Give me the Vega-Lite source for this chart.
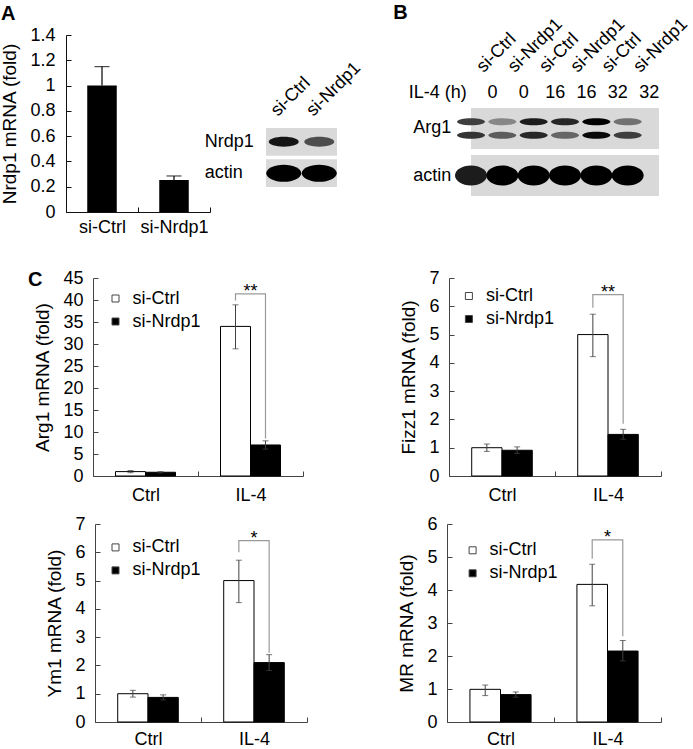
{
  "$schema": "https://vega.github.io/schema/vega-lite/v6.json",
  "background": "white",
  "padding": {"left": 0, "top": 2, "right": 5, "bottom": 3},
  "bounds": "flush",
  "spacing": 0,
  "resolve": {
    "scale": {"x": "independent", "y": "independent", "fill": "independent", "color": "independent", "xOffset": "independent", "yOffset": "independent"},
    "legend": {"fill": "independent", "color": "independent"}
  },
  "datasets": {
    "nrdp1": [
      {"si": "si-Ctrl", "mean": 1.0, "hi": 1.15},
      {"si": "si-Nrdp1", "mean": 0.253, "hi": 0.285}
    ],
    "blotA": [
      {"lane": "si-Ctrl", "protein": "Nrdp1", "level": 0.92},
      {"lane": "si-Nrdp1", "protein": "Nrdp1", "level": 0.62},
      {"lane": "si-Ctrl", "protein": "actin", "level": 1.0},
      {"lane": "si-Nrdp1", "protein": "actin", "level": 1.0}
    ],
    "blotB": [
      {"lane": "si-Ctrl|0", "protein": "Arg1", "band": "upper", "level": 0.7},
      {"lane": "si-Ctrl|0", "protein": "Arg1", "band": "lower", "level": 0.75},
      {"lane": "si-Nrdp1|0", "protein": "Arg1", "band": "upper", "level": 0.35},
      {"lane": "si-Nrdp1|0", "protein": "Arg1", "band": "lower", "level": 0.55},
      {"lane": "si-Ctrl|16", "protein": "Arg1", "band": "upper", "level": 0.88},
      {"lane": "si-Ctrl|16", "protein": "Arg1", "band": "lower", "level": 0.82},
      {"lane": "si-Nrdp1|16", "protein": "Arg1", "band": "upper", "level": 0.82},
      {"lane": "si-Nrdp1|16", "protein": "Arg1", "band": "lower", "level": 0.5},
      {"lane": "si-Ctrl|32", "protein": "Arg1", "band": "upper", "level": 1.0},
      {"lane": "si-Ctrl|32", "protein": "Arg1", "band": "lower", "level": 0.97},
      {"lane": "si-Nrdp1|32", "protein": "Arg1", "band": "upper", "level": 0.45},
      {"lane": "si-Nrdp1|32", "protein": "Arg1", "band": "lower", "level": 0.7},
      {"lane": "si-Ctrl|0", "protein": "actin", "band": "main", "level": 0.88},
      {"lane": "si-Nrdp1|0", "protein": "actin", "band": "main", "level": 1.0},
      {"lane": "si-Ctrl|16", "protein": "actin", "band": "main", "level": 1.0},
      {"lane": "si-Nrdp1|16", "protein": "actin", "band": "main", "level": 1.0},
      {"lane": "si-Ctrl|32", "protein": "actin", "band": "main", "level": 1.0},
      {"lane": "si-Nrdp1|32", "protein": "actin", "band": "main", "level": 1.0}
    ],
    "qpcr": [
      {"gene": "Arg1", "cond": "Ctrl", "si": "si-Ctrl", "mean": 1.0, "lo": 0.75, "hi": 1.25},
      {"gene": "Arg1", "cond": "Ctrl", "si": "si-Nrdp1", "mean": 0.85, "lo": 0.7, "hi": 1.0},
      {"gene": "Arg1", "cond": "IL-4", "si": "si-Ctrl", "mean": 34.0, "lo": 28.9, "hi": 38.9},
      {"gene": "Arg1", "cond": "IL-4", "si": "si-Nrdp1", "mean": 7.05, "lo": 6.1, "hi": 8.0},
      {"gene": "Fizz1", "cond": "Ctrl", "si": "si-Ctrl", "mean": 1.0, "lo": 0.87, "hi": 1.13},
      {"gene": "Fizz1", "cond": "Ctrl", "si": "si-Nrdp1", "mean": 0.91, "lo": 0.8, "hi": 1.03},
      {"gene": "Fizz1", "cond": "IL-4", "si": "si-Ctrl", "mean": 5.0, "lo": 4.22, "hi": 5.72},
      {"gene": "Fizz1", "cond": "IL-4", "si": "si-Nrdp1", "mean": 1.47, "lo": 1.3, "hi": 1.65},
      {"gene": "Ym1", "cond": "Ctrl", "si": "si-Ctrl", "mean": 1.0, "lo": 0.88, "hi": 1.12},
      {"gene": "Ym1", "cond": "Ctrl", "si": "si-Nrdp1", "mean": 0.87, "lo": 0.78, "hi": 0.96},
      {"gene": "Ym1", "cond": "IL-4", "si": "si-Ctrl", "mean": 5.0, "lo": 4.22, "hi": 5.72},
      {"gene": "Ym1", "cond": "IL-4", "si": "si-Nrdp1", "mean": 2.1, "lo": 1.82, "hi": 2.38},
      {"gene": "MR", "cond": "Ctrl", "si": "si-Ctrl", "mean": 0.99, "lo": 0.8, "hi": 1.12},
      {"gene": "MR", "cond": "Ctrl", "si": "si-Nrdp1", "mean": 0.83, "lo": 0.75, "hi": 0.91},
      {"gene": "MR", "cond": "IL-4", "si": "si-Ctrl", "mean": 4.17, "lo": 3.52, "hi": 4.78},
      {"gene": "MR", "cond": "IL-4", "si": "si-Nrdp1", "mean": 2.15, "lo": 1.85, "hi": 2.47}
    ],
    "brackets": [
      {"gene": "Arg1", "cond": "IL-4", "si": "si-Ctrl", "v": 39.9, "o": 1},
      {"gene": "Arg1", "cond": "IL-4", "si": "si-Ctrl", "v": 41.4, "o": 2},
      {"gene": "Arg1", "cond": "IL-4", "si": "si-Nrdp1", "v": 41.4, "o": 3},
      {"gene": "Arg1", "cond": "IL-4", "si": "si-Nrdp1", "v": 8.5, "o": 4},
      {"gene": "Fizz1", "cond": "IL-4", "si": "si-Ctrl", "v": 5.95, "o": 1},
      {"gene": "Fizz1", "cond": "IL-4", "si": "si-Ctrl", "v": 6.41, "o": 2},
      {"gene": "Fizz1", "cond": "IL-4", "si": "si-Nrdp1", "v": 6.41, "o": 3},
      {"gene": "Fizz1", "cond": "IL-4", "si": "si-Nrdp1", "v": 1.85, "o": 4},
      {"gene": "Ym1", "cond": "IL-4", "si": "si-Ctrl", "v": 6.0, "o": 1},
      {"gene": "Ym1", "cond": "IL-4", "si": "si-Ctrl", "v": 6.41, "o": 2},
      {"gene": "Ym1", "cond": "IL-4", "si": "si-Nrdp1", "v": 6.41, "o": 3},
      {"gene": "Ym1", "cond": "IL-4", "si": "si-Nrdp1", "v": 2.45, "o": 4},
      {"gene": "MR", "cond": "IL-4", "si": "si-Ctrl", "v": 4.95, "o": 1},
      {"gene": "MR", "cond": "IL-4", "si": "si-Ctrl", "v": 5.52, "o": 2},
      {"gene": "MR", "cond": "IL-4", "si": "si-Nrdp1", "v": 5.52, "o": 3},
      {"gene": "MR", "cond": "IL-4", "si": "si-Nrdp1", "v": 2.6, "o": 4}
    ],
    "stars": [
      {"gene": "Arg1", "cond": "IL-4", "v": 41.4, "label": "**"},
      {"gene": "Fizz1", "cond": "IL-4", "v": 6.41, "label": "**"},
      {"gene": "Ym1", "cond": "IL-4", "v": 6.41, "label": "*"},
      {"gene": "MR", "cond": "IL-4", "v": 5.52, "label": "*"}
    ]
  },
  "vconcat": [
    {
      "bounds": "flush", "spacing": 0,
      "resolve": {"scale": {"x": "independent", "y": "independent", "fill": "independent", "color": "independent", "xOffset": "independent", "yOffset": "independent"}, "legend": {"fill": "independent", "color": "independent"}},
      "hconcat": [
        {
          "width": 144, "height": 177,
          "title": {"text": "A", "dx": -65, "offset": 2},
          "data": {"name": "nrdp1"},
          "encoding": {
            "x": {"field": "si", "type": "nominal", "sort": ["si-Ctrl", "si-Nrdp1"], "scale": {"paddingInner": 0, "paddingOuter": 0},
              "axis": {"title": null, "labelAngle": 0, "tickBand": "extent", "tickSize": -5, "labelPadding": 11, "domainColor": "#111", "tickColor": "#111"}}
          },
          "layer": [
            {"mark": {"type": "bar", "fill": "#000", "width": {"band": 0.41}},
             "encoding": {"y": {"field": "mean", "type": "quantitative", "scale": {"domain": [0, 1.4], "nice": false},
               "axis": {"title": "Nrdp1 mRNA (fold)", "values": [0, 0.2, 0.4, 0.6, 0.8, 1, 1.2, 1.4], "tickCount": 20, "format": ".1~f", "labelOverlap": false, "tickSize": -5, "labelPadding": 16, "titlePadding": 10, "domainColor": "#111", "tickColor": "#111"}}}},
            {"mark": {"type": "rule", "color": "#000", "strokeWidth": 1.2},
             "encoding": {"y": {"field": "mean", "type": "quantitative"}, "y2": {"field": "hi"}}},
            {"mark": {"type": "tick", "color": "#000", "size": 15, "thickness": 1.2},
             "encoding": {"y": {"field": "hi", "type": "quantitative"}}}
          ]
        },
        {"width": 56, "height": 1, "data": {"values": [{}]}, "mark": {"type": "point", "opacity": 0}, "encoding": {}},
        {
          "bounds": "flush", "spacing": 0,
          "resolve": {"scale": {"x": "independent", "y": "independent", "color": "independent"}},
          "vconcat": [
            {"width": 1, "height": 93, "data": {"values": [{}]}, "mark": {"type": "point", "opacity": 0}, "encoding": {}},
            {
              "width": 71, "height": 59,
              "data": {"name": "blotA"},
              "layer": [
                {"mark": {"type": "rect", "fill": "#d9d9d9"},
                 "encoding": {
                   "y": {"field": "protein", "type": "nominal", "sort": ["Nrdp1", "actin"], "scale": {"paddingInner": 0.13, "paddingOuter": 0},
                     "axis": {"title": null, "domain": false, "ticks": false, "tickSize": 0, "labelAlign": "left", "labelBaseline": "middle", "labelPadding": 61.7}},
                   "x": {"value": 0}, "x2": {"value": "width"}}},
                {"transform": [{"filter": "datum.protein === 'Nrdp1'"}],
                 "mark": {"type": "point", "filled": true, "opacity": 1, "size": 900, "shape": "M-1,0A1,0.33,0,1,0,1,0A1,0.33,0,1,0,-1,0Z"},
                 "encoding": {
                   "x": {"field": "lane", "type": "nominal", "sort": ["si-Ctrl", "si-Nrdp1"], "scale": {"paddingInner": 0, "paddingOuter": 0},
                     "axis": {"orient": "top", "title": null, "domain": false, "ticks": false, "tickSize": 0, "labelAngle": -45, "labelAlign": "left", "labelBaseline": "middle", "labelPadding": 15, "labelOffset": -10}},
                   "y": {"field": "protein", "type": "nominal"},
                   "color": {"field": "level", "type": "quantitative", "scale": {"domain": [0, 1], "range": ["#d9d9d9", "#000000"]}, "legend": null}}},
                {"transform": [{"filter": "datum.protein === 'actin'"}],
                 "mark": {"type": "point", "filled": true, "opacity": 1, "size": 1225, "shape": "M-1,0A1,0.49,0,1,0,1,0A1,0.49,0,1,0,-1,0Z"},
                 "encoding": {
                   "x": {"field": "lane", "type": "nominal", "sort": ["si-Ctrl", "si-Nrdp1"]},
                   "y": {"field": "protein", "type": "nominal"},
                   "color": {"field": "level", "type": "quantitative", "legend": null}}}
              ]
            }
          ]
        },
        {"width": 205, "height": 1, "data": {"values": [{}]}, "mark": {"type": "point", "opacity": 0}, "encoding": {}},
        {
          "bounds": "flush", "spacing": 0,
          "resolve": {"scale": {"x": "independent", "y": "independent", "color": "independent", "yOffset": "independent"}},
          "vconcat": [
            {"width": 1, "height": 73, "data": {"values": [{}]}, "mark": {"type": "point", "opacity": 0}, "encoding": {}},
            {
              "width": 188, "height": 88,
              "title": {"text": "B", "dx": -77.7, "offset": -8},
              "data": {"name": "blotB"},
              "resolve": {"axis": {"x": "independent"}, "scale": {"yOffset": "independent"}},
              "layer": [
                {"mark": {"type": "rect", "fill": "#d9d9d9"},
                 "encoding": {
                   "y": {"field": "protein", "type": "nominal", "sort": ["Arg1", "actin"], "scale": {"paddingInner": 0.128, "paddingOuter": 0},
                     "axis": {"title": null, "domain": false, "ticks": false, "tickSize": 0, "labelAlign": "left", "labelBaseline": "middle", "labelPadding": 58.2}},
                   "x": {"value": 0}, "x2": {"value": "width"}}},
                {"transform": [{"filter": "datum.protein === 'Arg1'"}],
                 "mark": {"type": "point", "filled": true, "opacity": 1, "size": 784, "shape": "M-1,0A1,0.25,0,1,0,1,0A1,0.25,0,1,0,-1,0Z"},
                 "encoding": {
                   "x": {"field": "lane", "type": "nominal", "sort": ["si-Ctrl|0", "si-Nrdp1|0", "si-Ctrl|16", "si-Nrdp1|16", "si-Ctrl|32", "si-Nrdp1|32"],
                     "scale": {"paddingInner": 0, "paddingOuter": 0.18, "align": 0},
                     "axis": {"orient": "top", "title": null, "domain": false, "ticks": false, "tickSize": 0, "labelAngle": -45, "labelAlign": "left", "labelBaseline": "middle", "labelPadding": 38.8, "labelOffset": 8.5, "labelExpr": "split(datum.value, '|')[0]"}},
                   "y": {"field": "protein", "type": "nominal"},
                   "yOffset": {"field": "band", "type": "nominal", "sort": ["upper", "lower"], "scale": {"paddingInner": 0, "paddingOuter": 1}},
                   "color": {"field": "level", "type": "quantitative", "scale": {"domain": [0, 1], "range": ["#d9d9d9", "#000000"]}, "legend": null}}},
                {"transform": [{"filter": "datum.protein === 'actin'"}],
                 "mark": {"type": "point", "filled": true, "opacity": 1, "size": 1024, "shape": "M-1,0A1,0.62,0,1,0,1,0A1,0.62,0,1,0,-1,0Z"},
                 "encoding": {
                   "x": {"field": "lane", "type": "nominal", "sort": ["si-Ctrl|0", "si-Nrdp1|0", "si-Ctrl|16", "si-Nrdp1|16", "si-Ctrl|32", "si-Nrdp1|32"], "axis": null},
                   "y": {"field": "protein", "type": "nominal"},
                   "color": {"field": "level", "type": "quantitative", "legend": null}}},
                {"transform": [{"filter": "datum.protein === 'actin'"}],
                 "mark": {"type": "point", "opacity": 0},
                 "encoding": {
                   "x": {"field": "lane", "type": "nominal", "sort": ["si-Ctrl|0", "si-Nrdp1|0", "si-Ctrl|16", "si-Nrdp1|16", "si-Ctrl|32", "si-Nrdp1|32"],
                     "axis": {"orient": "top", "domain": false, "ticks": false, "tickSize": 0, "labelAngle": 0, "labelAlign": "center", "labelBaseline": "middle", "labelPadding": 16, "labelOffset": 21, "labelExpr": "split(datum.value, '|')[1]",
                       "title": "IL-4 (h)", "titleAngle": 0, "titleAlign": "left", "titleBaseline": "middle", "titleX": -62.7, "titleY": -16, "titleFontSize": 18}},
                   "y": {"field": "protein", "type": "nominal"}}}
              ]
            }
          ]
        }
      ]
    },
    {"width": 1, "height": 243, "data": {"values": [{}]}, "mark": {"type": "point", "opacity": 0}, "encoding": {}},
    {
      "bounds": "flush", "spacing": 0,
      "resolve": {"scale": {"x": "independent", "y": "independent", "fill": "independent", "xOffset": "independent"}, "legend": {"fill": "independent"}},
      "hconcat": [
        {"width": 27, "height": 1, "data": {"values": [{}]}, "mark": {"type": "point", "opacity": 0}, "encoding": {}},
        {
          "width": 210, "height": 198,
          "title": {"text": "C", "dx": -65, "offset": -21},
          "layer": [
            {"data": {"name": "qpcr"}, "transform": [{"filter": "datum.gene === 'Arg1'"}],
             "mark": {"type": "bar", "stroke": "#000", "strokeWidth": 1},
             "encoding": {
               "x": {"field": "cond", "type": "nominal", "sort": ["Ctrl", "IL-4"], "scale": {"paddingInner": 0, "paddingOuter": 0},
                 "axis": {"title": null, "labelAngle": 0, "tickBand": "extent", "tickSize": -5, "labelPadding": 15, "domainColor": "#444", "tickColor": "#444"}},
               "xOffset": {"field": "si", "type": "nominal", "sort": ["si-Ctrl", "si-Nrdp1"], "scale": {"paddingInner": 0, "paddingOuter": 0.75}},
               "y": {"field": "mean", "type": "quantitative", "scale": {"domain": [0, 45], "nice": false},
                 "axis": {"title": "Arg1 mRNA (fold)", "values": [0, 5, 10, 15, 20, 25, 30, 35, 40, 45], "tickCount": 20, "format": "d", "labelOverlap": false, "tickSize": -5, "labelPadding": 15, "titlePadding": 10, "domainColor": "#444", "tickColor": "#444"}},
               "fill": {"field": "si", "type": "nominal", "scale": {"domain": ["si-Ctrl", "si-Nrdp1"], "range": ["#ffffff", "#000000"]},
                 "legend": {"title": null, "orient": "none", "legendX": 13.5, "legendY": 11.5, "symbolType": "square", "symbolSize": 49, "symbolStrokeColor": "#444", "symbolStrokeWidth": 1, "labelFontSize": 18, "labelOffset": 8, "rowPadding": 5, "padding": 0}}}},
            {"data": {"name": "qpcr"}, "transform": [{"filter": "datum.gene === 'Arg1'"}],
             "mark": {"type": "rule", "color": "#404040", "strokeWidth": 1},
             "encoding": {
               "x": {"field": "cond", "type": "nominal", "sort": ["Ctrl", "IL-4"]},
               "xOffset": {"field": "si", "type": "nominal", "sort": ["si-Ctrl", "si-Nrdp1"]},
               "y": {"field": "lo", "type": "quantitative"}, "y2": {"field": "hi"}}},
            {"data": {"name": "qpcr"}, "transform": [{"filter": "datum.gene === 'Arg1'"}, {"fold": ["lo", "hi"], "as": ["end", "val"]}],
             "mark": {"type": "tick", "color": "#404040", "size": 6, "thickness": 1},
             "encoding": {
               "x": {"field": "cond", "type": "nominal", "sort": ["Ctrl", "IL-4"]},
               "xOffset": {"field": "si", "type": "nominal", "sort": ["si-Ctrl", "si-Nrdp1"]},
               "y": {"field": "val", "type": "quantitative"}}},
            {"data": {"name": "brackets"}, "transform": [{"filter": "datum.gene === 'Arg1'"}],
             "mark": {"type": "line", "color": "#999999", "strokeWidth": 1.2},
             "encoding": {
               "x": {"field": "cond", "type": "nominal", "sort": ["Ctrl", "IL-4"]},
               "xOffset": {"field": "si", "type": "nominal", "sort": ["si-Ctrl", "si-Nrdp1"]},
               "y": {"field": "v", "type": "quantitative"},
               "order": {"field": "o", "type": "quantitative"}}},
            {"data": {"name": "stars"}, "transform": [{"filter": "datum.gene === 'Arg1'"}],
             "mark": {"type": "text", "fontSize": 18, "baseline": "alphabetic", "dy": 3},
             "encoding": {
               "x": {"field": "cond", "type": "nominal", "sort": ["Ctrl", "IL-4"]},
               "y": {"field": "v", "type": "quantitative"},
               "text": {"field": "label"}}}
          ]
        },
        {"width": 146, "height": 1, "data": {"values": [{}]}, "mark": {"type": "point", "opacity": 0}, "encoding": {}},
        {
          "width": 212, "height": 198,
          "layer": [
            {"data": {"name": "qpcr"}, "transform": [{"filter": "datum.gene === 'Fizz1'"}],
             "mark": {"type": "bar", "stroke": "#000", "strokeWidth": 1},
             "encoding": {
               "x": {"field": "cond", "type": "nominal", "sort": ["Ctrl", "IL-4"], "scale": {"paddingInner": 0, "paddingOuter": 0},
                 "axis": {"title": null, "labelAngle": 0, "tickBand": "extent", "tickSize": -5, "labelPadding": 15, "domainColor": "#444", "tickColor": "#444"}},
               "xOffset": {"field": "si", "type": "nominal", "sort": ["si-Ctrl", "si-Nrdp1"], "scale": {"paddingInner": 0, "paddingOuter": 0.75}},
               "y": {"field": "mean", "type": "quantitative", "scale": {"domain": [0, 7], "nice": false},
                 "axis": {"title": "Fizz1 mRNA (fold)", "values": [0, 1, 2, 3, 4, 5, 6, 7], "tickCount": 20, "format": "d", "labelOverlap": false, "tickSize": -5, "labelPadding": 15, "titlePadding": 10, "domainColor": "#444", "tickColor": "#444"}},
               "fill": {"field": "si", "type": "nominal", "scale": {"domain": ["si-Ctrl", "si-Nrdp1"], "range": ["#ffffff", "#000000"]},
                 "legend": {"title": null, "orient": "none", "legendX": 10.9, "legendY": 9, "symbolType": "square", "symbolSize": 49, "symbolStrokeColor": "#444", "symbolStrokeWidth": 1, "labelFontSize": 18, "labelOffset": 8, "rowPadding": 5, "padding": 0}}}},
            {"data": {"name": "qpcr"}, "transform": [{"filter": "datum.gene === 'Fizz1'"}],
             "mark": {"type": "rule", "color": "#404040", "strokeWidth": 1},
             "encoding": {
               "x": {"field": "cond", "type": "nominal", "sort": ["Ctrl", "IL-4"]},
               "xOffset": {"field": "si", "type": "nominal", "sort": ["si-Ctrl", "si-Nrdp1"]},
               "y": {"field": "lo", "type": "quantitative"}, "y2": {"field": "hi"}}},
            {"data": {"name": "qpcr"}, "transform": [{"filter": "datum.gene === 'Fizz1'"}, {"fold": ["lo", "hi"], "as": ["end", "val"]}],
             "mark": {"type": "tick", "color": "#404040", "size": 6, "thickness": 1},
             "encoding": {
               "x": {"field": "cond", "type": "nominal", "sort": ["Ctrl", "IL-4"]},
               "xOffset": {"field": "si", "type": "nominal", "sort": ["si-Ctrl", "si-Nrdp1"]},
               "y": {"field": "val", "type": "quantitative"}}},
            {"data": {"name": "brackets"}, "transform": [{"filter": "datum.gene === 'Fizz1'"}],
             "mark": {"type": "line", "color": "#999999", "strokeWidth": 1.2},
             "encoding": {
               "x": {"field": "cond", "type": "nominal", "sort": ["Ctrl", "IL-4"]},
               "xOffset": {"field": "si", "type": "nominal", "sort": ["si-Ctrl", "si-Nrdp1"]},
               "y": {"field": "v", "type": "quantitative"},
               "order": {"field": "o", "type": "quantitative"}}},
            {"data": {"name": "stars"}, "transform": [{"filter": "datum.gene === 'Fizz1'"}],
             "mark": {"type": "text", "fontSize": 18, "baseline": "alphabetic", "dy": 3},
             "encoding": {
               "x": {"field": "cond", "type": "nominal", "sort": ["Ctrl", "IL-4"]},
               "y": {"field": "v", "type": "quantitative"},
               "text": {"field": "label"}}}
          ]
        }
      ]
    },
    {"width": 1, "height": 246, "data": {"values": [{}]}, "mark": {"type": "point", "opacity": 0}, "encoding": {}},
    {
      "bounds": "flush", "spacing": 0,
      "resolve": {"scale": {"x": "independent", "y": "independent", "fill": "independent", "xOffset": "independent"}, "legend": {"fill": "independent"}},
      "hconcat": [
        {"width": 29, "height": 1, "data": {"values": [{}]}, "mark": {"type": "point", "opacity": 0}, "encoding": {}},
        {
          "width": 212, "height": 198,
          "layer": [
            {"data": {"name": "qpcr"}, "transform": [{"filter": "datum.gene === 'Ym1'"}],
             "mark": {"type": "bar", "stroke": "#000", "strokeWidth": 1},
             "encoding": {
               "x": {"field": "cond", "type": "nominal", "sort": ["Ctrl", "IL-4"], "scale": {"paddingInner": 0, "paddingOuter": 0},
                 "axis": {"title": null, "labelAngle": 0, "tickBand": "extent", "tickSize": -5, "labelPadding": 13, "domainColor": "#444", "tickColor": "#444"}},
               "xOffset": {"field": "si", "type": "nominal", "sort": ["si-Ctrl", "si-Nrdp1"], "scale": {"paddingInner": 0, "paddingOuter": 0.75}},
               "y": {"field": "mean", "type": "quantitative", "scale": {"domain": [0, 7], "nice": false},
                 "axis": {"title": "Ym1 mRNA (fold)", "values": [0, 1, 2, 3, 4, 5, 6, 7], "tickCount": 20, "format": "d", "labelOverlap": false, "tickSize": -5, "labelPadding": 15, "titlePadding": 10, "domainColor": "#444", "tickColor": "#444"}},
               "fill": {"field": "si", "type": "nominal", "scale": {"domain": ["si-Ctrl", "si-Nrdp1"], "range": ["#ffffff", "#000000"]},
                 "legend": {"title": null, "orient": "none", "legendX": 11.5, "legendY": 14.4, "symbolType": "square", "symbolSize": 49, "symbolStrokeColor": "#444", "symbolStrokeWidth": 1, "labelFontSize": 18, "labelOffset": 8, "rowPadding": 5, "padding": 0}}}},
            {"data": {"name": "qpcr"}, "transform": [{"filter": "datum.gene === 'Ym1'"}],
             "mark": {"type": "rule", "color": "#404040", "strokeWidth": 1},
             "encoding": {
               "x": {"field": "cond", "type": "nominal", "sort": ["Ctrl", "IL-4"]},
               "xOffset": {"field": "si", "type": "nominal", "sort": ["si-Ctrl", "si-Nrdp1"]},
               "y": {"field": "lo", "type": "quantitative"}, "y2": {"field": "hi"}}},
            {"data": {"name": "qpcr"}, "transform": [{"filter": "datum.gene === 'Ym1'"}, {"fold": ["lo", "hi"], "as": ["end", "val"]}],
             "mark": {"type": "tick", "color": "#404040", "size": 6, "thickness": 1},
             "encoding": {
               "x": {"field": "cond", "type": "nominal", "sort": ["Ctrl", "IL-4"]},
               "xOffset": {"field": "si", "type": "nominal", "sort": ["si-Ctrl", "si-Nrdp1"]},
               "y": {"field": "val", "type": "quantitative"}}},
            {"data": {"name": "brackets"}, "transform": [{"filter": "datum.gene === 'Ym1'"}],
             "mark": {"type": "line", "color": "#999999", "strokeWidth": 1.2},
             "encoding": {
               "x": {"field": "cond", "type": "nominal", "sort": ["Ctrl", "IL-4"]},
               "xOffset": {"field": "si", "type": "nominal", "sort": ["si-Ctrl", "si-Nrdp1"]},
               "y": {"field": "v", "type": "quantitative"},
               "order": {"field": "o", "type": "quantitative"}}},
            {"data": {"name": "stars"}, "transform": [{"filter": "datum.gene === 'Ym1'"}],
             "mark": {"type": "text", "fontSize": 18, "baseline": "alphabetic", "dy": 3},
             "encoding": {
               "x": {"field": "cond", "type": "nominal", "sort": ["Ctrl", "IL-4"]},
               "y": {"field": "v", "type": "quantitative"},
               "text": {"field": "label"}}}
          ]
        },
        {"width": 140, "height": 1, "data": {"values": [{}]}, "mark": {"type": "point", "opacity": 0}, "encoding": {}},
        {
          "width": 214, "height": 198,
          "layer": [
            {"data": {"name": "qpcr"}, "transform": [{"filter": "datum.gene === 'MR'"}],
             "mark": {"type": "bar", "stroke": "#000", "strokeWidth": 1},
             "encoding": {
               "x": {"field": "cond", "type": "nominal", "sort": ["Ctrl", "IL-4"], "scale": {"paddingInner": 0, "paddingOuter": 0},
                 "axis": {"title": null, "labelAngle": 0, "tickBand": "extent", "tickSize": -5, "labelPadding": 13, "domainColor": "#444", "tickColor": "#444"}},
               "xOffset": {"field": "si", "type": "nominal", "sort": ["si-Ctrl", "si-Nrdp1"], "scale": {"paddingInner": 0, "paddingOuter": 0.75}},
               "y": {"field": "mean", "type": "quantitative", "scale": {"domain": [0, 6], "nice": false},
                 "axis": {"title": "MR mRNA (fold)", "values": [0, 1, 2, 3, 4, 5, 6], "tickCount": 20, "format": "d", "labelOverlap": false, "tickSize": -5, "labelPadding": 15, "titlePadding": 10, "domainColor": "#444", "tickColor": "#444"}},
               "fill": {"field": "si", "type": "nominal", "scale": {"domain": ["si-Ctrl", "si-Nrdp1"], "range": ["#ffffff", "#000000"]},
                 "legend": {"title": null, "orient": "none", "legendX": 16.6, "legendY": 17.3, "symbolType": "square", "symbolSize": 49, "symbolStrokeColor": "#444", "symbolStrokeWidth": 1, "labelFontSize": 18, "labelOffset": 8, "rowPadding": 5, "padding": 0}}}},
            {"data": {"name": "qpcr"}, "transform": [{"filter": "datum.gene === 'MR'"}],
             "mark": {"type": "rule", "color": "#404040", "strokeWidth": 1},
             "encoding": {
               "x": {"field": "cond", "type": "nominal", "sort": ["Ctrl", "IL-4"]},
               "xOffset": {"field": "si", "type": "nominal", "sort": ["si-Ctrl", "si-Nrdp1"]},
               "y": {"field": "lo", "type": "quantitative"}, "y2": {"field": "hi"}}},
            {"data": {"name": "qpcr"}, "transform": [{"filter": "datum.gene === 'MR'"}, {"fold": ["lo", "hi"], "as": ["end", "val"]}],
             "mark": {"type": "tick", "color": "#404040", "size": 6, "thickness": 1},
             "encoding": {
               "x": {"field": "cond", "type": "nominal", "sort": ["Ctrl", "IL-4"]},
               "xOffset": {"field": "si", "type": "nominal", "sort": ["si-Ctrl", "si-Nrdp1"]},
               "y": {"field": "val", "type": "quantitative"}}},
            {"data": {"name": "brackets"}, "transform": [{"filter": "datum.gene === 'MR'"}],
             "mark": {"type": "line", "color": "#999999", "strokeWidth": 1.2},
             "encoding": {
               "x": {"field": "cond", "type": "nominal", "sort": ["Ctrl", "IL-4"]},
               "xOffset": {"field": "si", "type": "nominal", "sort": ["si-Ctrl", "si-Nrdp1"]},
               "y": {"field": "v", "type": "quantitative"},
               "order": {"field": "o", "type": "quantitative"}}},
            {"data": {"name": "stars"}, "transform": [{"filter": "datum.gene === 'MR'"}],
             "mark": {"type": "text", "fontSize": 18, "baseline": "alphabetic", "dy": 3},
             "encoding": {
               "x": {"field": "cond", "type": "nominal", "sort": ["Ctrl", "IL-4"]},
               "y": {"field": "v", "type": "quantitative"},
               "text": {"field": "label"}}}
          ]
        }
      ]
    }
  ],
  "config": {
    "view": {"stroke": null},
    "font": "Liberation Sans",
    "axis": {"labelFontSize": 18, "titleFontSize": 19, "titleFontWeight": "normal", "labelColor": "#000", "titleColor": "#000", "domainColor": "#333", "tickColor": "#333", "grid": false, "labelOverlap": false, "labelFont": "Liberation Sans", "titleFont": "Liberation Sans"},
    "legend": {"labelFontSize": 18, "labelColor": "#000", "labelFont": "Liberation Sans"},
    "title": {"fontSize": 20, "fontWeight": "bold", "anchor": "start", "frame": "group", "color": "#000", "font": "Liberation Sans"},
    "text": {"font": "Liberation Sans", "color": "#000"}
  }
}
